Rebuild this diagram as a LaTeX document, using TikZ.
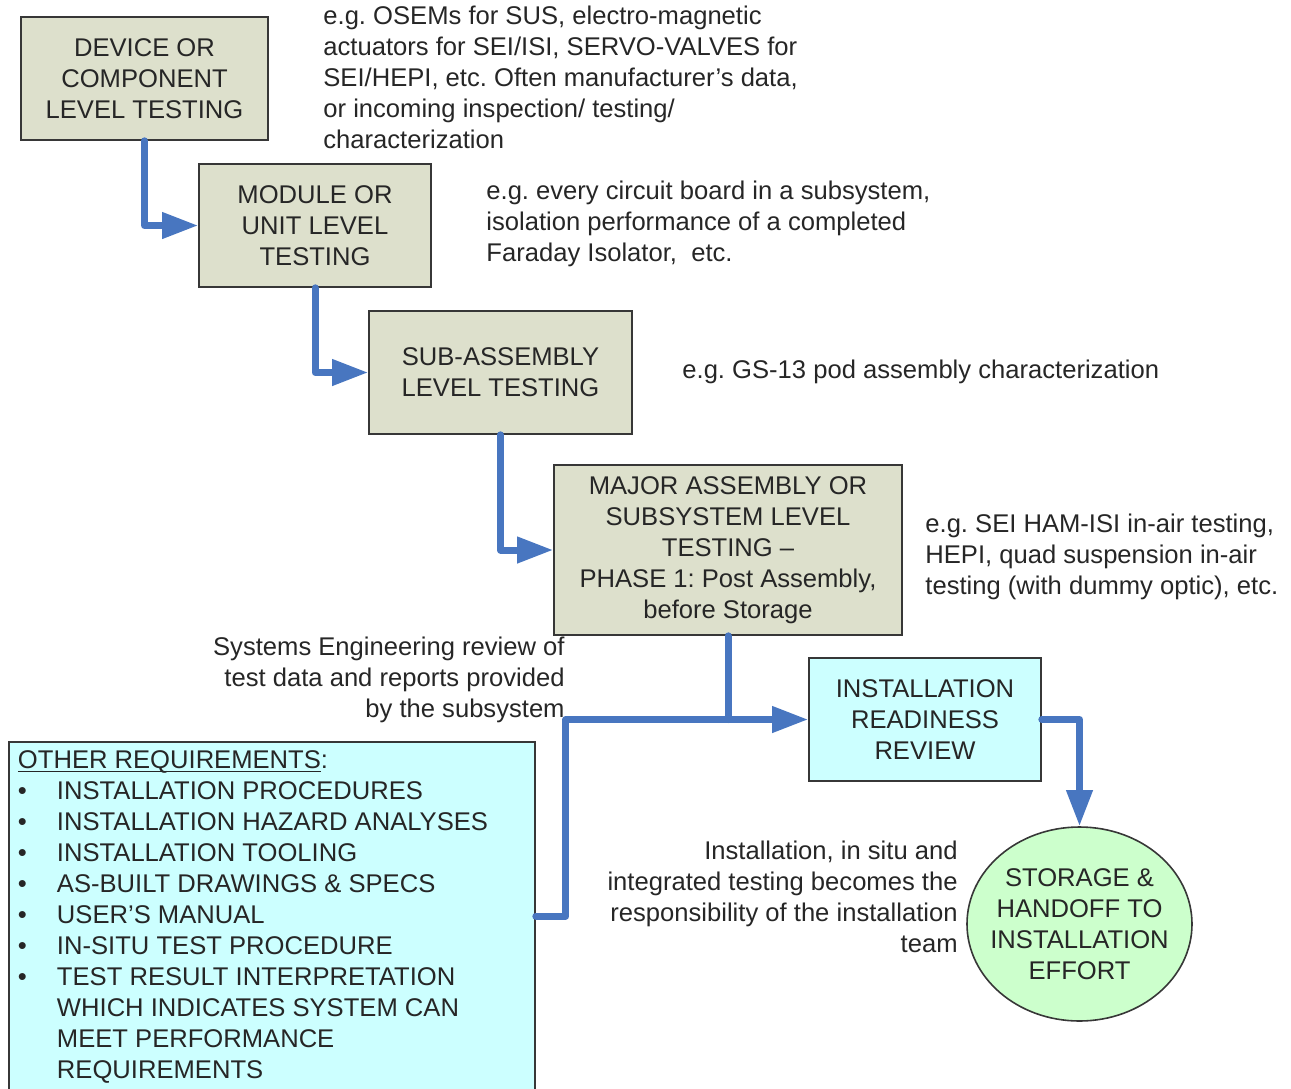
\documentclass[tikz,border=0pt]{standalone}
\usepackage{fontspec}
\setmainfont{Liberation Sans}
\usetikzlibrary{positioning, arrows.meta, shapes.geometric}
\definecolor{flowblue}{RGB}{72,118,192}
\definecolor{testfill}{RGB}{221,224,204}
\definecolor{reviewfill}{RGB}{204,255,255}
\definecolor{handfill}{RGB}{204,255,204}
\definecolor{edgegray}{RGB}{55,55,55}
\newcommand{\reqitem}{\makebox[19.5pt][l]{\hspace{0pt}\textbullet}}
\frenchspacing

\begin{document}
\begin{tikzpicture}[
        x = 0.5pt, y = -0.5pt,
        font = \fontsize{12.8}{15.5}\selectfont,
        box/.style = {draw=edgegray, line width=0.8pt, align=center, inner sep=2pt, minimum height=61.5pt, text=black!85},
        test/.style = {fill=testfill},
        review/.style = {fill=reviewfill},
        note/.style = {inner sep=0pt, text=black!85},
        arrow/.style = {-{Triangle[length=18pt, width=12.5pt]}, line width=3.5pt, draw=flowblue, line join=round, line cap=round},
        link/.style = {line width=3.5pt, draw=flowblue, line join=round, line cap=round},
    ]
        \clip (0,0) rectangle (1291,1088);
        \node[box, test, minimum width=123.5pt] (dev) at (144.5,78.5) {DEVICE OR\\COMPONENT\\LEVEL TESTING};
        \node[box, test, minimum width=116pt] (mod) at (315,225.5) {MODULE OR\\UNIT LEVEL\\TESTING};
        \node[box, test, minimum width=131.5pt] (sub) at (500.5,372.5) {SUB-ASSEMBLY\\LEVEL TESTING};
        \node[box, test, minimum width=174pt, minimum height=85pt] (maj) at (728,550) {MAJOR ASSEMBLY OR\\SUBSYSTEM LEVEL\\TESTING --\\PHASE 1: Post Assembly,\\before Storage};
        \node[box, review, minimum width=116pt] (irr) at (925,719.5) {INSTALLATION\\READINESS\\REVIEW};
        \node[box, ellipse, fill=handfill, minimum width=112.5pt, minimum height=97pt, inner xsep=-6pt, inner ysep=0pt] (store) at (1079.5,924) {STORAGE \&\\HANDOFF TO\\INSTALLATION\\EFFORT};
        \node[box, review, minimum width=263pt, inner xsep=4.5pt, inner ysep=3pt, align=left] (other) at (272,916) {\begin{minipage}[c][168pt][t]{254pt}
            \rule{0pt}{10.4pt}\underline{\smash{OTHER REQUIREMENTS}}:\\
            \reqitem INSTALLATION PROCEDURES\\
            \reqitem INSTALLATION HAZARD ANALYSES\\
            \reqitem INSTALLATION TOOLING\\
            \reqitem AS-BUILT DRAWINGS \& SPECS\\
            \reqitem USER'S MANUAL\\
            \reqitem IN-SITU TEST PROCEDURE\\
            \reqitem TEST RESULT INTERPRETATION\\
            \hspace*{19.5pt}WHICH INDICATES SYSTEM CAN\\
            \hspace*{19.5pt}MEET PERFORMANCE\\
            \hspace*{19.5pt}REQUIREMENTS
        \end{minipage}};
        \node[note, anchor=west, align=left] (devnote) at (323,77.5) {e.g. OSEMs for SUS, electro-magnetic\\actuators for SEI/ISI, SERVO-VALVES for\\SEI/HEPI, etc. Often manufacturer's data,\\or incoming inspection/ testing/\\characterization};
        \node[note, anchor=west, align=left] (modnote) at (486,224) {e.g. every circuit board in a subsystem,\\isolation performance of a completed\\Faraday Isolator,\ \ etc.};
        \node[note, anchor=west] (subnote) at (682,371.5) {e.g. GS-13 pod assembly characterization};
        \node[note, anchor=west, align=left] (majnote) at (925,557) {e.g. SEI HAM-ISI in-air testing,\\HEPI, quad suspension in-air\\testing (with dummy optic), etc.};
        \node[note, anchor=east, align=right] (revnote) at (565,680) {Systems Engineering review of\\test data and reports provided\\by the subsystem};
        \node[note, anchor=east, align=right] (handnote) at (958,896.5) {Installation, in situ and\\integrated testing becomes the\\responsibility of the installation\\team};
        \draw[arrow] (dev.south) |- (mod.west);
        \draw[arrow] (mod.south) |- (sub.west);
        \draw[arrow] (sub.south) |- (maj.west);
        \draw[link] (maj.south) -- (maj.south |- irr.west);
        \draw[arrow] (other.east) -- ++(30,0) |- (irr.west);
        \draw[arrow] (irr.east) -| (store.north);
    \end{tikzpicture}
\end{document}
